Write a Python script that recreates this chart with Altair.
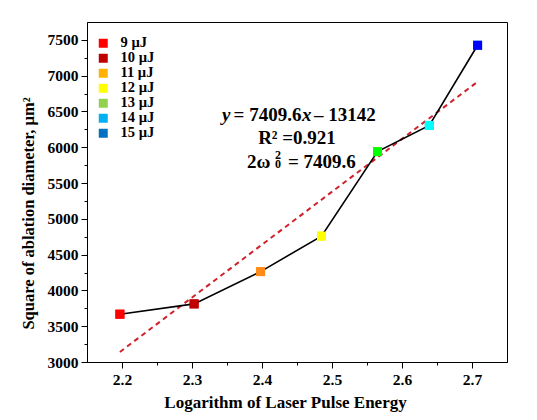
import altair as alt
import pandas as pd

# ---- data ----
energies = ["9 µJ", "10 µJ", "11 µJ", "12 µJ", "13 µJ", "14 µJ", "15 µJ"]
log_energy = [2.197, 2.303, 2.398, 2.485, 2.565, 2.639, 2.708]
diam_sq = [3668, 3812, 4263, 4759, 5939, 6305, 7425]

point_colors = ["#FF0000", "#C00000", "#FF8C1A", "#FFFF00", "#00FF00", "#00FFFF", "#0000FF"]
legend_colors = ["#FF0000", "#C00000", "#FFB300", "#FFFF00", "#92D050", "#00B0F0", "#0070C0"]

fit_x = [2.197, 2.708]
fit_y = [3140, 6915]

x_ticks = [2.2, 2.25, 2.3, 2.35, 2.4, 2.45, 2.5, 2.55, 2.6, 2.65, 2.7]
y_ticks = [3000, 3250, 3500, 3750, 4000, 4250, 4500, 4750, 5000, 5250, 5500,
           5750, 6000, 6250, 6500, 6750, 7000, 7250, 7500]

FONT = "Liberation Serif"

df = pd.DataFrame({"e": energies, "x": log_energy, "y": diam_sq})
fit_df = pd.DataFrame({"x": fit_x, "y": fit_y})

x_major = "abs(datum.value*10 - round(datum.value*10)) < 0.001"
y_major = "datum.value % 500 === 0"

xenc = alt.X(
    "x:Q",
    scale=alt.Scale(domain=[2.15, 2.75], nice=False, zero=False),
    axis=alt.Axis(
        values=x_ticks,
        labelExpr=f"{x_major} ? format(datum.value, '.1f') : ''",
        tickSize={"condition": {"test": x_major, "value": 6}, "value": 3},
        title="Logarithm of Laser Pulse Energy",
        titleX=198, titleY=40, titleAlign="center", titleBaseline="middle",
        titleFontSize=17, labelPadding=4,
        labelOverlap=False, labelFlush=False,
    ),
)
yenc = alt.Y(
    "y:Q",
    scale=alt.Scale(domain=[3000, 7750], nice=False, zero=False),
    axis=alt.Axis(
        values=y_ticks,
        labelExpr=f"{y_major} ? format(datum.value, 'd') : ''",
        tickSize={"condition": {"test": y_major, "value": 6}, "value": 3},
        title="Square of ablation diameter, µm²",
        titleX=-59, titleY=191, titleAngle=270, titleAlign="center",
        titleBaseline="middle", titleFontSize=16.5, labelPadding=3,
        labelOverlap=False,
    ),
)

base = alt.Chart(df)

legend_proxy = base.mark_square(size=81, opacity=1).encode(
    color=alt.Color(
        "e:N",
        scale=alt.Scale(domain=energies, range=legend_colors),
        legend=alt.Legend(
            orient="none", legendX=9, legendY=14, title=None,
            symbolType="square", symbolSize=81, symbolStrokeWidth=0,
            labelFont=FONT, labelFontSize=14.5, labelFontWeight="bold",
            labelColor="black", rowPadding=0, labelOffset=10, padding=0,
        ),
    ),
)

fit = alt.Chart(fit_df).mark_line(
    color="#D0202A", strokeDash=[5, 4], strokeWidth=2
)

line = base.mark_line(color="black", strokeWidth=1.6)

points = base.mark_square(size=81, opacity=1).encode(
    fill=alt.Fill("e:N", scale=alt.Scale(domain=energies, range=point_colors), legend=None),
)


def txt(xv, yv, s, dx=0, dy=0, size=19, style="normal", align="left"):
    d = pd.DataFrame({"x": [xv], "y": [yv], "t": [s]})
    return alt.Chart(d).mark_text(
        font=FONT, fontSize=size, fontWeight="bold", fontStyle=style,
        align=align, baseline="alphabetic", dx=dx, dy=dy, color="black",
    ).encode(text="t:N")


l1x, l1y = 2.343, 6361
l2x, l2y = 2.45, 6046
l3x, l3y = 2.3786, 5716

texts = [
    txt(l1x, l1y, "y", 0, style="italic"),
    txt(l1x, l1y, "= 7409.6", 11.5),
    txt(l1x, l1y, "x", 80, style="italic"),
    txt(l1x, l1y, "– 13142", 92),
    txt(l2x, l2y, "R² =0.921", align="center"),
    txt(l3x, l3y, "2ω", 0),
    txt(l3x, l3y, "2", 31, dy=-9, size=12, align="center"),
    txt(l3x, l3y, "0", 31, dy=0, size=12, align="center"),
    txt(l3x, l3y, "= 7409.6", 41),
]

chart = alt.layer(legend_proxy, fit, line, points, *texts).encode(
    x=xenc, y=yenc
).properties(
    width=420, height=340, background="white",
    autosize=alt.AutoSizeParams(type="none"),
    padding={"left": 79, "top": 14, "right": 22, "bottom": 50},
).configure_view(
    stroke="black", strokeWidth=1
).configure_axis(
    labelFont=FONT, labelFontSize=15.5, labelFontWeight="bold", labelColor="black",
    titleFont=FONT, titleFontWeight="bold", titleColor="black",
    tickColor="black", domainColor="black", grid=False, tickWidth=1,
    labelOverlap=False,
)

chart.save("out.html", embed_options={"renderer": "svg", "actions": False})
